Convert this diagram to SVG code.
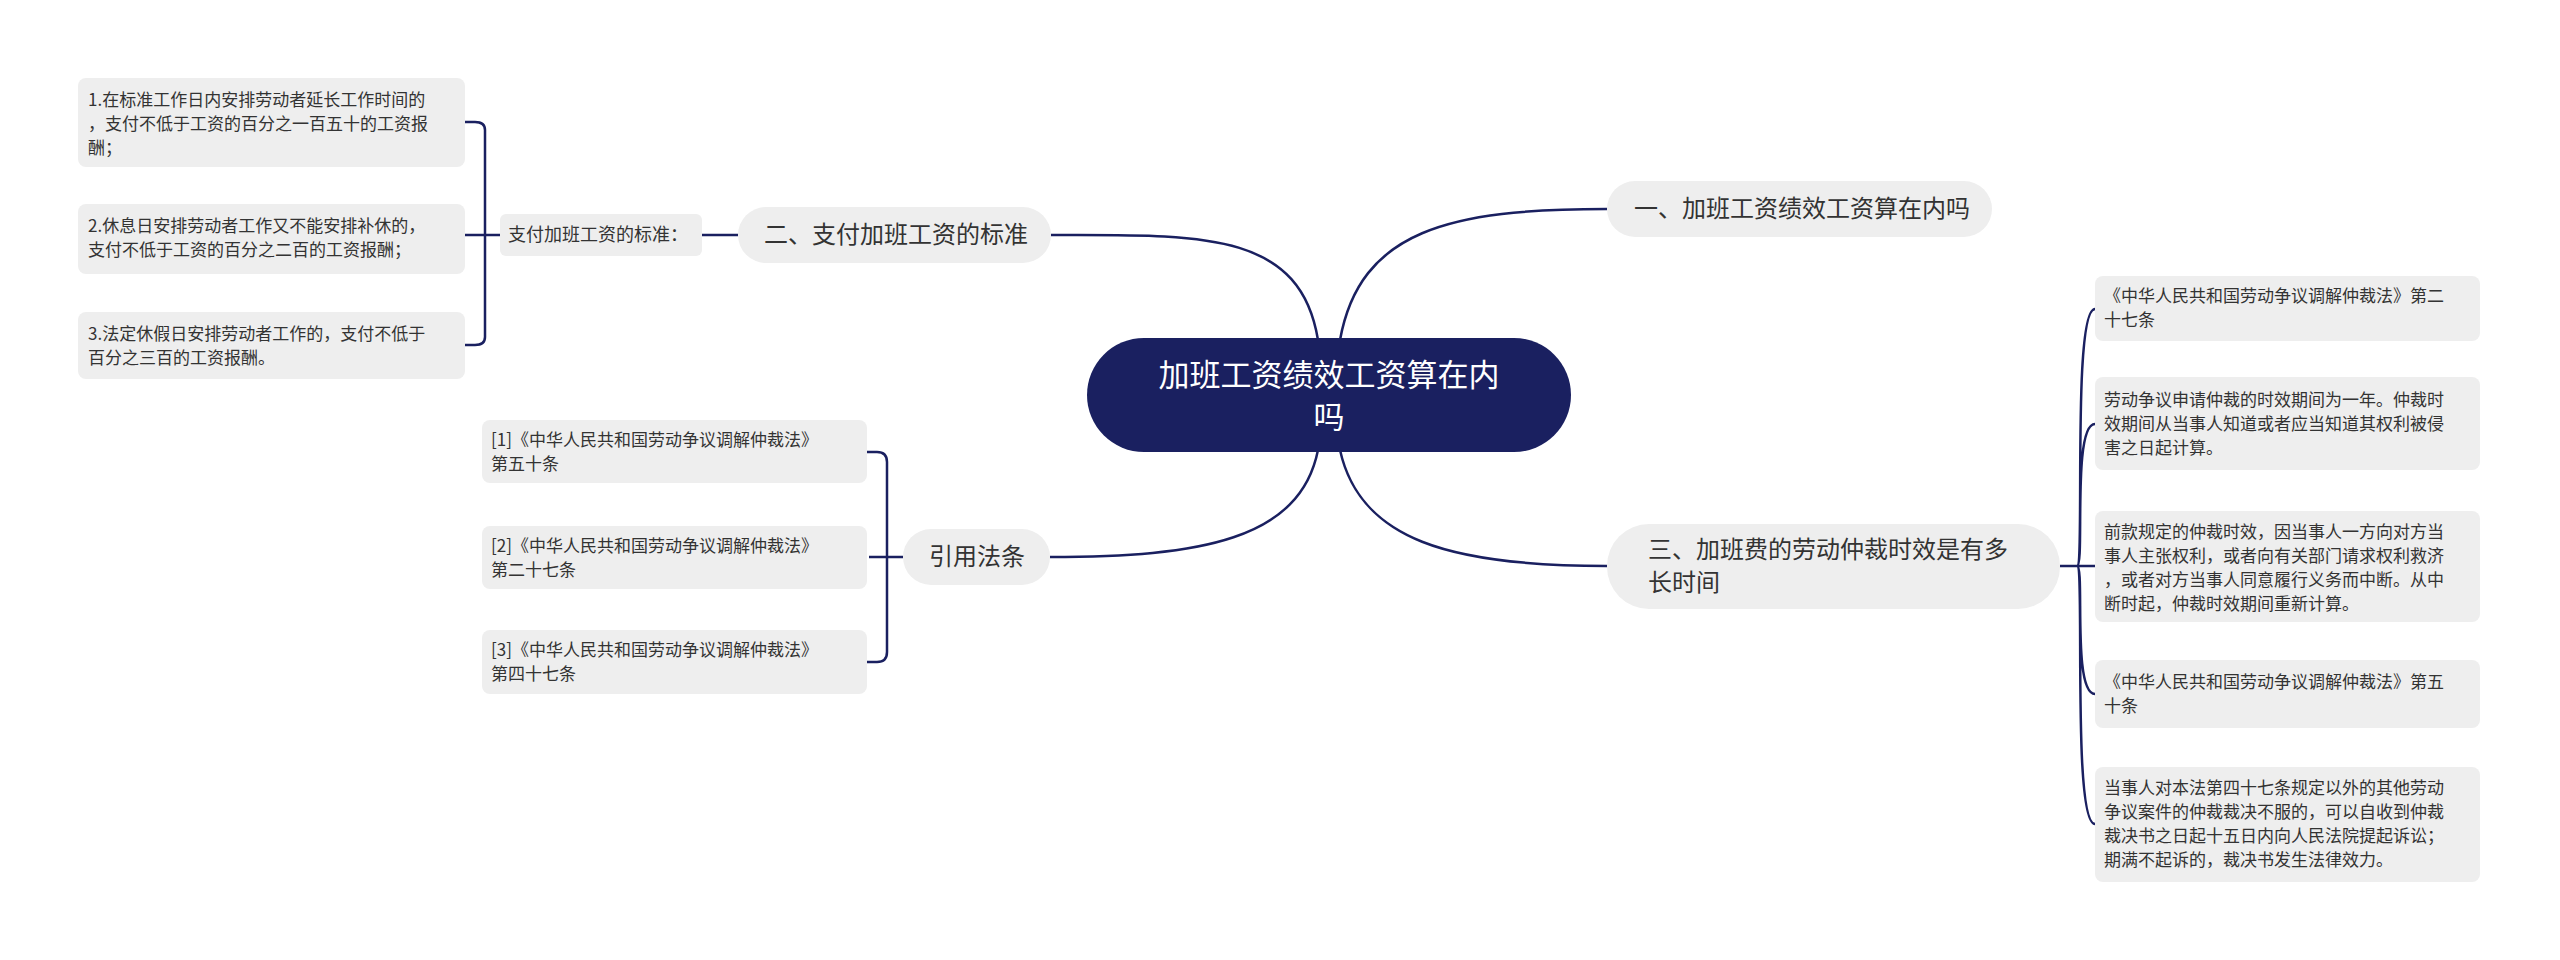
<svg xmlns="http://www.w3.org/2000/svg" width="2560" height="960" viewBox="0 0 2560 960">
<style>
.b{fill:#eeeeee}
.t{font-family:"Noto Sans CJK SC","Liberation Sans",sans-serif;fill:#333333}
.s{font-size:17px}
.m{font-size:18px}
.l{font-size:24px}
.c{fill:none;stroke:#1a2060;stroke-width:2.5}
</style>
<rect width="2560" height="960" fill="#ffffff"/>
<g id="connectors">
<path class="c" d="M1340 340 C1360 230 1450 209 1607 209"/>
<path class="c" d="M1318 340 C1300 230 1200 235 1051 235"/>
<path class="c" d="M1318 450 C1300 540 1200 557 1050 557"/>
<path class="c" d="M1340 450 C1360 540 1450 566 1607 566"/>
<path class="c" d="M738 235 L702 235"/>
<path class="c" d="M500 235 L485 235 M485 235 L485 130 Q485 122 475 122 L465 122 M485 235 L465 235 M485 235 L485 337 Q485 345 475 345 L465 345"/>
<path class="c" d="M903 557 L869 557 M887 557 L887 462 Q887 452 877 452 L867 452 M887 557 L887 652 Q887 662 877 662 L867 662"/>
<path class="c" d="M2060 566 L2095 566 M2077 566 C2085 566 2072 309 2095 309 M2077 566 C2085 566 2072 424 2095 424 M2077 566 C2085 566 2072 694 2095 694 M2077 566 C2085 566 2072 824 2095 824"/>
</g>
<g id="root">
<rect x="1087" y="338" width="484" height="114" rx="57" fill="#1a2060"/>
<text class="t" x="1329" y="386" font-size="31" fill="#ffffff" style="fill:#fff" text-anchor="middle">加班工资绩效工资算在内</text>
<text class="t" x="1329" y="428" font-size="31" style="fill:#fff" text-anchor="middle">吗</text>
</g>
<g id="b1"><rect class="b" x="1607" y="181" width="385" height="56" rx="28"/><text class="t l" x="1634" y="217">一、加班工资绩效工资算在内吗</text></g>
<g id="b2"><rect class="b" x="738" y="207" width="313" height="56" rx="28"/><text class="t l" x="764" y="243">二、支付加班工资的标准</text></g>
<g id="b2s"><rect class="b" x="500" y="214" width="202" height="42" rx="6"/><text class="t m" x="508" y="241">支付加班工资的标准：</text></g>
<g id="l1"><rect class="b" x="78" y="78" width="387" height="89" rx="8"/><text class="t s" x="88" y="106">1.在标准工作日内安排劳动者延长工作时间的</text><text class="t s" x="88" y="130">，支付不低于工资的百分之一百五十的工资报</text><text class="t s" x="88" y="154">酬；</text></g>
<g id="l2"><rect class="b" x="78" y="204" width="387" height="70" rx="8"/><text class="t s" x="88" y="232">2.休息日安排劳动者工作又不能安排补休的，</text><text class="t s" x="88" y="256">支付不低于工资的百分之二百的工资报酬；</text></g>
<g id="l3"><rect class="b" x="78" y="312" width="387" height="67" rx="8"/><text class="t s" x="88" y="340">3.法定休假日安排劳动者工作的，支付不低于</text><text class="t s" x="88" y="364">百分之三百的工资报酬。</text></g>
<g id="b4"><rect class="b" x="903" y="529" width="147" height="56" rx="28"/><text class="t l" x="929" y="565">引用法条</text></g>
<g id="c1"><rect class="b" x="482" y="420" width="385" height="63" rx="8"/><text class="t s" x="491" y="446">[1]《中华人民共和国劳动争议调解仲裁法》</text><text class="t s" x="491" y="470">第五十条</text></g>
<g id="c2"><rect class="b" x="482" y="526" width="385" height="63" rx="8"/><text class="t s" x="491" y="552">[2]《中华人民共和国劳动争议调解仲裁法》</text><text class="t s" x="491" y="576">第二十七条</text></g>
<g id="c3"><rect class="b" x="482" y="630" width="385" height="64" rx="8"/><text class="t s" x="491" y="656">[3]《中华人民共和国劳动争议调解仲裁法》</text><text class="t s" x="491" y="680">第四十七条</text></g>
<g id="b3"><rect class="b" x="1607" y="524" width="453" height="85" rx="42"/><text class="t l" x="1648" y="558">三、加班费的劳动仲裁时效是有多</text><text class="t l" x="1648" y="591">长时间</text></g>
<g id="r1"><rect class="b" x="2095" y="276" width="385" height="65" rx="8"/><text class="t s" x="2104" y="302">《中华人民共和国劳动争议调解仲裁法》第二</text><text class="t s" x="2104" y="326">十七条</text></g>
<g id="r2"><rect class="b" x="2095" y="377" width="385" height="93" rx="8"/><text class="t s" x="2104" y="406">劳动争议申请仲裁的时效期间为一年。仲裁时</text><text class="t s" x="2104" y="430">效期间从当事人知道或者应当知道其权利被侵</text><text class="t s" x="2104" y="454">害之日起计算。</text></g>
<g id="r3"><rect class="b" x="2095" y="511" width="385" height="111" rx="8"/><text class="t s" x="2104" y="538">前款规定的仲裁时效，因当事人一方向对方当</text><text class="t s" x="2104" y="562">事人主张权利，或者向有关部门请求权利救济</text><text class="t s" x="2104" y="586">，或者对方当事人同意履行义务而中断。从中</text><text class="t s" x="2104" y="610">断时起，仲裁时效期间重新计算。</text></g>
<g id="r4"><rect class="b" x="2095" y="660" width="385" height="68" rx="8"/><text class="t s" x="2104" y="688">《中华人民共和国劳动争议调解仲裁法》第五</text><text class="t s" x="2104" y="712">十条</text></g>
<g id="r5"><rect class="b" x="2095" y="767" width="385" height="115" rx="8"/><text class="t s" x="2104" y="794">当事人对本法第四十七条规定以外的其他劳动</text><text class="t s" x="2104" y="818">争议案件的仲裁裁决不服的，可以自收到仲裁</text><text class="t s" x="2104" y="842">裁决书之日起十五日内向人民法院提起诉讼；</text><text class="t s" x="2104" y="866">期满不起诉的，裁决书发生法律效力。</text></g>
</svg>
